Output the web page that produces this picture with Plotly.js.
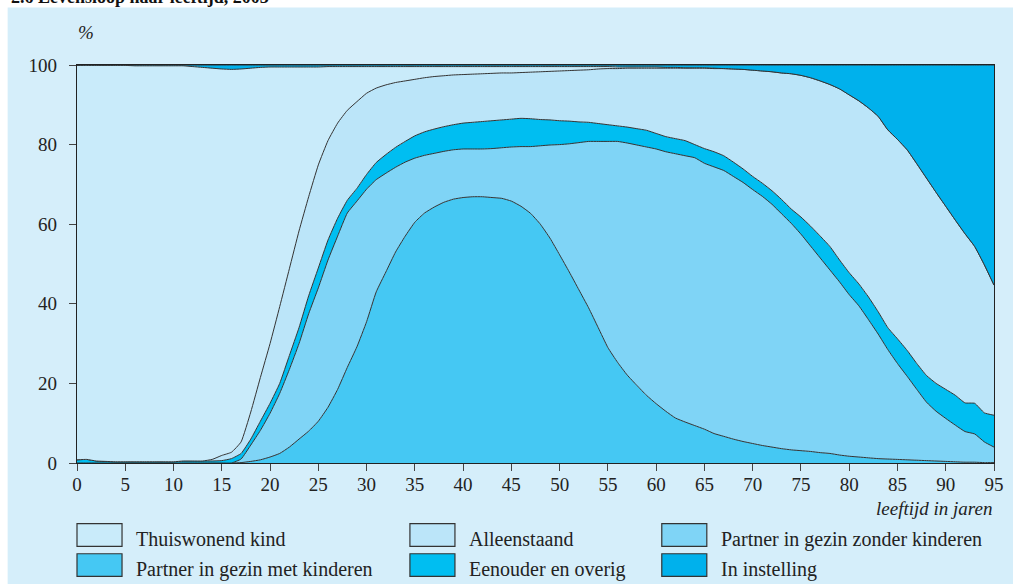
<!DOCTYPE html>
<html>
<head>
<meta charset="utf-8">
<script src="https://cdn.plot.ly/plotly-3.0.1.min.js"></script>
<style>
  html, body { margin: 0; padding: 0; background: #ffffff; }
  #chart { width: 1013px; height: 584px; }
</style>
</head>
<body>
<div id="chart"></div>
<script>
// Leeftijd in jaren (0 t/m 95)
var ages = [];
for (var a = 0; a <= 95; a++) ages.push(a);

// Aandeel (%) per leefvorm, per leeftijd 0..95
var partnerMetKinderen = [
  0,0,0,0,0,0,0,0,0,0, 0,0,0,0,0,0,0,0.1,0.4,0.8,
  1.5,2.4,4.0,6.0,8.0,10.5,14.0,18.5,24.0,29.2,
  35.5,43.0,48.0,53.0,57.0,60.5,62.8,64.3,65.5,66.3,
  66.7,66.9,66.9,66.7,66.5,65.8,64.5,62.7,60.0,56.5,
  52.3,48.0,43.5,39.0,34.0,29.0,25.3,22.1,19.5,17.0,
  14.9,13.0,11.3,10.3,9.4,8.5,7.4,6.7,6.0,5.4,
  4.9,4.4,4.0,3.6,3.3,3.1,2.9,2.6,2.4,2.0,
  1.7,1.5,1.3,1.1,1.0,0.9,0.8,0.7,0.6,0.5,
  0.4,0.3,0.2,0.2,0.1,0.1
];
var partnerZonderKinderen = [
  0,0,0,0,0,0,0,0,0,0, 0,0,0,0,0,0,0,0.9,4.1,7.4,
  11.0,15.1,19.5,24.0,29.5,33.5,37.0,38.5,38.8,36.6,
  33.3,28.2,24.8,21.3,18.6,16.1,14.5,13.5,12.8,12.4,
  12.2,12.0,12.0,12.3,12.7,13.6,15.0,16.8,19.7,23.4,
  27.7,32.2,37.0,41.8,46.8,51.8,55.5,58.3,60.4,62.4,
  64.0,65.2,66.4,66.9,67.3,66.8,67.0,66.8,66.0,65.1,
  63.8,62.6,61.0,59.0,56.9,54.4,51.6,48.9,46.1,43.5,
  40.6,38.0,34.7,31.3,27.5,24.1,21.0,17.8,14.7,12.5,
  10.8,9.2,7.7,7.1,5.2,3.9
];
var eenouderEnOverig = [
  0.8,0.9,0.5,0.4,0.3,0.3,0.3,0.3,0.3,0.3, 0.3,0.5,0.5,0.5,0.5,0.6,1.1,1.4,1.5,2.3,
  2.5,2.5,3.5,4.0,4.5,5.0,5.0,4.5,3.2,3.2,
  3.7,4.3,4.7,5.0,5.2,5.6,5.9,6.1,6.2,6.3,
  6.5,6.7,6.9,7.0,7.0,7.0,7.1,7.0,6.6,6.3,
  6.0,5.7,5.2,4.8,4.5,4.2,3.9,4.0,4.1,4.2,
  3.9,3.8,3.8,3.8,3.3,3.7,3.8,3.7,3.6,3.4,
  3.3,3.3,3.4,3.6,3.6,4.3,5.0,5.5,5.9,5.5,
  5.5,5.5,5.7,5.6,5.5,6.2,6.5,6.5,6.7,7.0,
  7.3,7.5,7.2,7.7,7.3,8.0
];
var alleenstaand = [
  0,0,0,0,0,0,0,0,0,0, 0,0,0,0,0.4,1.3,1.6,2.9,6.8,11.0,
  15.0,19.3,21.8,24.3,24.9,25.9,25.0,23.9,22.6,21.8,
  20.4,18.7,17.5,16.3,15.2,14.2,13.6,13.2,12.8,12.5,
  12.2,12.1,12.0,11.9,11.8,11.6,11.5,11.7,12.0,12.2,
  12.5,12.7,13.0,13.2,13.7,14.1,14.4,14.8,15.2,15.6,
  16.4,17.2,17.7,18.2,19.2,20.2,20.9,21.9,23.4,25.0,
  26.7,28.2,29.9,31.8,34.0,35.6,37.3,39.0,40.7,43.0,
  44.7,46.0,47.5,49.1,49.7,50.1,50.4,50.2,49.6,48.0,
  46.0,44.0,42.5,39.4,37.2,32.7
];
var thuiswonendKind = [
  99.1,99.0,99.4,99.5,99.6,99.6,99.5,99.5,99.5,99.5, 99.5,99.3,99.1,98.9,98.3,97.1,96.2,93.7,86.4,77.9,
  69.5,60.2,50.7,41.2,32.6,24.6,18.6,14.2,11.0,8.8,
  6.7,5.4,4.6,4.0,3.6,3.2,2.8,2.5,2.3,2.1,
  2.0,1.9,1.8,1.7,1.6,1.6,1.5,1.4,1.3,1.2,
  1.1,1.0,0.9,0.8,0.6,0.5,0.4,0.3,0.3,0.3,
  0.3,0.2,0.2,0.1,0.1,0.1,0.1,0,0,0,
  0,0,0,0,0,0,0,0,0,0,
  0,0,0,0,0,0,0,0,0,0,
  0,0,0,0,0,0
];
var inInstelling = [
  0.1,0.1,0.1,0.1,0.1,0.1,0.2,0.2,0.2,0.2, 0.2,0.2,0.4,0.6,0.8,1.0,1.1,1.0,0.8,0.6,
  0.5,0.5,0.5,0.5,0.5,0.5,0.4,0.4,0.4,0.4,
  0.4,0.4,0.4,0.4,0.4,0.4,0.4,0.4,0.4,0.4,
  0.4,0.4,0.4,0.4,0.4,0.4,0.4,0.4,0.4,0.4,
  0.4,0.4,0.4,0.4,0.4,0.4,0.5,0.5,0.5,0.5,
  0.5,0.6,0.6,0.7,0.7,0.7,0.8,0.9,1.0,1.1,
  1.3,1.5,1.7,2.0,2.2,2.6,3.2,4.0,4.9,6.0,
  7.5,9.0,10.8,12.9,16.3,18.7,21.3,24.8,28.4,32.0,
  35.5,39.0,42.4,45.6,50.2,55.3
];

var xTicks = [0,5,10,15,20,25,30,35,40,45,50,55,60,65,70,75,80,85,90,95];
var yTicks = [0,20,40,60,80,100];

var seriesNames = [
  "Partner in gezin met kinderen",
  "Partner in gezin zonder kinderen",
  "Eenouder en overig",
  "Alleenstaand",
  "Thuiswonend kind",
  "In instelling"
];
var seriesValues = [partnerMetKinderen, partnerZonderKinderen, eenouderEnOverig,
                    alleenstaand, thuiswonendKind, inInstelling];
var seriesColors = ["#45c8f3", "#7fd4f6", "#00bef1", "#bbe5f9", "#c9ebfa", "#00b1ec"];

var traces = seriesNames.map(function (n, i) {
  return {
    type: "scatter", mode: "lines", name: n,
    x: ages, y: seriesValues[i],
    stackgroup: "one",
    line: { color: "#333333", width: 1, shape: "spline", smoothing: 0.4 },
    fillcolor: seriesColors[i],
    showlegend: false,
    hoverinfo: "skip"
  };
});

// plot area geometry (pixels)
var L = 77.3, R = 993.7, T = 65.3, B = 462.7;
var W = R - L, H = B - T;
function px(x) { return (x - L) / W; }
function py(y) { return (B - y) / H; }

var serif = "Liberation Serif, Times New Roman, serif";

var shapes = [{
  type: "rect", xref: "paper", yref: "paper", layer: "below",
  x0: px(8), x1: px(1014), y0: py(585), y1: py(8),
  fillcolor: "#d5eefa", line: { width: 0 }
}];
var annotations = [
  { xref: "paper", yref: "paper", x: px(9), y: py(-3), xanchor: "left", yanchor: "middle",
    text: "<b>2.6 Levensloop naar leeftijd, 2003</b>", showarrow: false,
    font: { family: serif, size: 18, color: "#111" } },
  { xref: "paper", yref: "paper", x: px(76), y: py(33), xanchor: "left", yanchor: "middle",
    text: "<i>%</i>", showarrow: false, font: { family: serif, size: 19, color: "#222" } },
  { xref: "paper", yref: "paper", x: 1, y: py(508), xanchor: "right", yanchor: "middle",
    text: "<i>leeftijd in jaren</i>", showarrow: false, font: { family: serif, size: 19, color: "#222" } }
];

// legend (drawn manually: three columns, two rows)
var legendOrder = [4, 3, 1, 0, 2, 5];
var colBox = [77.3, 410, 661.7];
var rowTop = [523.3, 553.3];
legendOrder.forEach(function (si, k) {
  var c = k % 3, r = Math.floor(k / 3);
  shapes.push({
    type: "rect", xref: "paper", yref: "paper",
    x0: px(colBox[c]), x1: px(colBox[c] + 45),
    y0: py(rowTop[r] + 22.7), y1: py(rowTop[r]),
    fillcolor: seriesColors[si], line: { color: "#333", width: 1.2 }
  });
  annotations.push({
    xref: "paper", yref: "paper", x: px(colBox[c] + 57), y: py(rowTop[r] + 15.5),
    xanchor: "left", yanchor: "middle", showarrow: false,
    text: seriesNames[si], font: { family: serif, size: 20, color: "#222" }
  });
});

var layout = {
  width: 1013, height: 584,
  margin: { l: L, r: 1013 - R, t: T, b: 584 - B, pad: 0 },
  paper_bgcolor: "#ffffff",
  plot_bgcolor: "#c9ebfa",
  showlegend: false,
  font: { family: serif, size: 19, color: "#222" },
  xaxis: {
    range: [0, 95], tickvals: xTicks, ticktext: xTicks.map(String),
    ticks: "outside", ticklen: 7, tickcolor: "#444", tickwidth: 1,
    showline: true, linecolor: "#222", linewidth: 1.2, mirror: true,
    showgrid: false, zeroline: false, fixedrange: true,
    ticklabelstandoff: -3,
    tickfont: { family: serif, size: 19, color: "#222" }
  },
  yaxis: {
    range: [0, 100], tickvals: yTicks, ticktext: yTicks.map(String),
    ticks: "outside", ticklen: 7, tickcolor: "#444", tickwidth: 1,
    showline: true, linecolor: "#222", linewidth: 1.2, mirror: true,
    showgrid: false, zeroline: false, fixedrange: true,
    ticklabelstandoff: 8,
    tickfont: { family: serif, size: 19, color: "#222" }
  },
  shapes: shapes,
  annotations: annotations
};

Plotly.newPlot("chart", traces, layout, { staticPlot: true, displayModeBar: false });
</script>
</body>
</html>
